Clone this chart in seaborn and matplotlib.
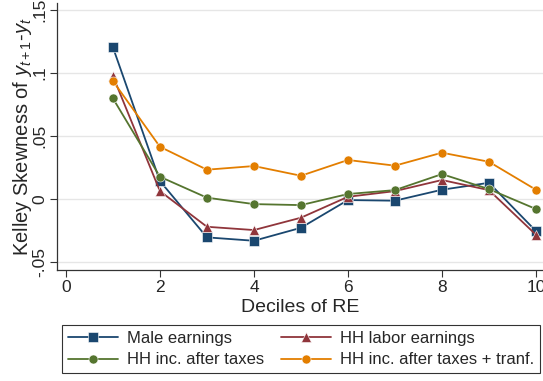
import numpy as np
import pandas as pd
import matplotlib
matplotlib.use("Agg")
import matplotlib.pyplot as plt
import seaborn as sns

deciles = [1, 2, 3, 4, 5, 6, 7, 8, 9, 10]
male_earnings = [0.1204, 0.0143, -0.0304, -0.0331, -0.0228, -0.0008, -0.0013, 0.0074, 0.0129, -0.0254]
hh_labor = [0.0976, 0.0063, -0.0220, -0.0246, -0.0148, 0.0018, 0.0063, 0.0151, 0.0071, -0.0283]
hh_after_tax = [0.0799, 0.0177, 0.0011, -0.0040, -0.0048, 0.0040, 0.0071, 0.0198, 0.0079, -0.0079]
hh_after_tax_tr = [0.0937, 0.0415, 0.0233, 0.0262, 0.0185, 0.0310, 0.0265, 0.0368, 0.0296, 0.0074]

series_names = ["Male earnings", "HH labor earnings", "HH inc. after taxes",
                "HH inc. after taxes + tranf."]
series_vals = [male_earnings, hh_labor, hh_after_tax, hh_after_tax_tr]
colors = ["#1a476f", "#90353b", "#55752f", "#e37e00"]
markers = ["s", "^", "o", "o"]
msizes = [6.5, 7, 6.5, 6.5]

sns.set_theme(style="white")
plt.rcParams["font.family"] = ["Liberation Sans", "DejaVu Sans"]
plt.rcParams["mathtext.fontset"] = "custom"
plt.rcParams["mathtext.it"] = "Liberation Sans:italic"
plt.rcParams["mathtext.rm"] = "Liberation Sans"

fig = plt.figure(figsize=(5.43, 3.81), dpi=100)
ax = fig.add_axes([57 / 543, 1 - 270 / 381, 1 - 57 / 543, (270 - 3) / 381])

for name, vals, c, m, ms in zip(series_names, series_vals, colors, markers, msizes):
    df = pd.DataFrame({"decile": deciles, "value": vals})
    sns.lineplot(data=df, x="decile", y="value", ax=ax, color=c, marker=m,
                 markersize=ms, markeredgewidth=0.4, markeredgecolor="white",
                 linewidth=1.3, label=name, legend=False)

ax.set_xlim(-0.19, 10.15)
ax.set_ylim(-0.0563, 0.1556)
ax.set_xticks([0, 2, 4, 6, 8, 10])
ax.set_yticks([-0.05, 0, 0.05, 0.1, 0.15])
ax.set_yticklabels(["-.05", "0", ".05", ".1", ".15"], rotation=90, va="center")
ax.tick_params(axis="both", labelsize=12.5, length=5, width=0.8, color="#333333",
               direction="out", bottom=True, left=True, pad=2)
ax.grid(axis="y", color="#e6e6e6", linewidth=1)
ax.grid(axis="x", visible=False)
ax.set_axisbelow(True)
for side in ["top", "right"]:
    ax.spines[side].set_visible(False)
for side in ["left", "bottom"]:
    ax.spines[side].set_color("#333333")
    ax.spines[side].set_linewidth(0.9)

ax.set_xlabel("Deciles of RE", fontsize=14, labelpad=3)
ax.set_ylabel("Kelley Skewness of $y_{t+1}$-$y_t$", fontsize=14.5, labelpad=-1)

# row-major legend order: two rows of two entries
handles, labels = ax.get_legend_handles_labels()
order = [0, 2, 1, 3]
leg = fig.legend([handles[i] for i in order], [labels[i] for i in order], ncol=2,
                 loc="upper left", bbox_to_anchor=(62 / 543, 1 - 325 / 381),
                 borderaxespad=0, fontsize=12, frameon=True, fancybox=False,
                 edgecolor="black", handlelength=3.0, handletextpad=0.55,
                 columnspacing=1.0, borderpad=0.35, labelspacing=0.4)
leg.get_frame().set_linewidth(0.8)

fig.savefig("out.png", dpi=100)
